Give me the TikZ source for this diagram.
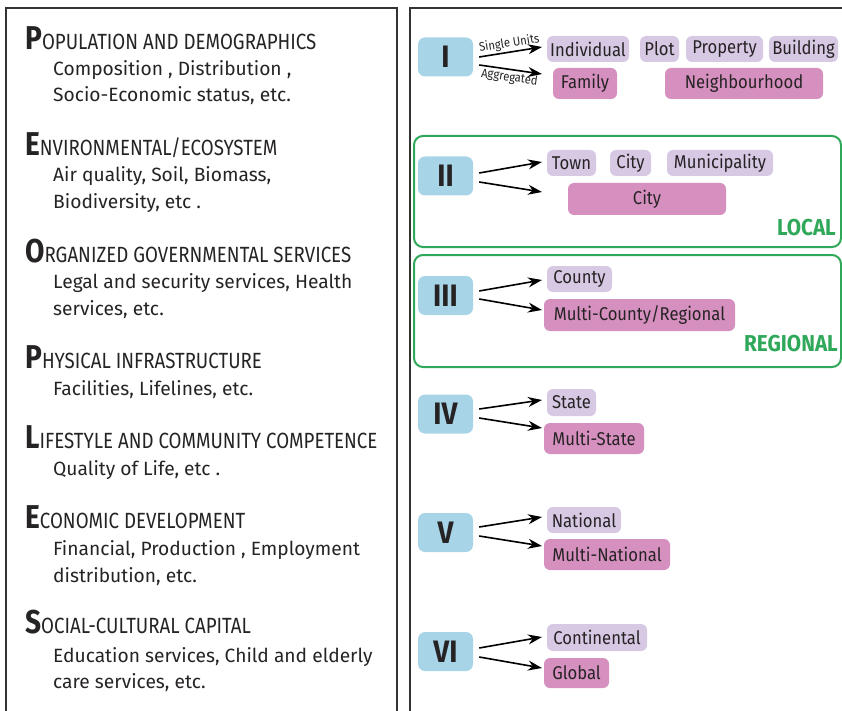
\documentclass[tikz,border=0pt]{standalone}
\usepackage{fontspec}
\setmainfont{Fira Sans}
\newfontfamily\titlefont[FakeStretch=0.85]{Fira Sans}
\newfontfamily\labelfont[FakeStretch=0.9]{Fira Sans}
\usetikzlibrary{arrows.meta}

\definecolor{txt}{HTML}{262324}
\definecolor{frame}{HTML}{333333}
\definecolor{lvlblue}{HTML}{A8D4E8}
\definecolor{unitlilac}{HTML}{D7C8E4}
\definecolor{aggpink}{HTML}{D690C0}
\definecolor{scalegreen}{HTML}{2FA85A}

\newcommand{\capinit}[1]{{\fontsize{33}{33}\selectfont\bfseries #1}}

\tikzset{
  panel/.style={draw=frame, line width=2.5pt},
  cat/.style={anchor=base west, inner sep=0pt, text=txt, font=\titlefont\fontsize{22}{22}\selectfont},
  desc/.style={anchor=base west, inner sep=0pt, text=txt, font=\fontsize{19.2}{19}\selectfont},
  lvl/.style={fill=lvlblue, rounded corners=7pt, minimum width=55pt, minimum height=39pt, inner sep=0pt, text=txt, font=\labelfont\fontsize{31}{31}\selectfont\bfseries},
  unit/.style={fill=unitlilac, rounded corners=6pt, minimum height=26pt, inner sep=0pt, text=txt, font=\labelfont\fontsize{18.5}{18.5}\selectfont},
  agg/.style={fill=aggpink, rounded corners=6pt, minimum height=31pt, inner sep=0pt, text=txt, font=\labelfont\fontsize{18.5}{18.5}\selectfont},
  scalebox/.style={draw=scalegreen, line width=2pt, rounded corners=9pt},
  scalename/.style={anchor=base east, inner sep=0pt, text=scalegreen, font=\labelfont\fontsize{23}{23}\selectfont\bfseries},
  arr/.style={-{Stealth[length=14pt,width=10pt]}, line width=1.6pt, draw=black},
  tag/.style={inner sep=1.5pt, text=txt, font=\labelfont\fontsize{12.5}{12.5}\selectfont}
}

\begin{document}
\begin{tikzpicture}[x=1pt, y=-1pt]
    \useasboundingbox (0,0) rectangle (842,711);

    % the two panels
    \draw[panel] (6,8) rectangle (397,730);
    \draw[panel] (410,8) rectangle (870,730);

    % left panel: the domains
    \node[cat] (pop) at (25,50) {\capinit{P}OPULATION AND DEMOGRAPHICS};
    \node[desc] (pop1) at (53,76) {Composition , Distribution ,};
    \node[desc] (pop2) at (53,102) {Socio-Economic status, etc.};

    \node[cat] (env) at (25,156) {\capinit{E}NVIRONMENTAL/ECOSYSTEM};
    \node[desc] (env1) at (53,182) {Air quality, Soil, Biomass,};
    \node[desc] (env2) at (53,208) {Biodiversity, etc .};

    \node[cat] (org) at (25,262) {\capinit{O}RGANIZED GOVERNMENTAL SERVICES};
    \node[desc] (org1) at (53,288) {Legal and security services, Health};
    \node[desc] (org2) at (53,315) {services, etc.};

    \node[cat] (phy) at (25,368) {\capinit{P}HYSICAL INFRASTRUCTURE};
    \node[desc] (phy1) at (53,395) {Facilities, Lifelines, etc.};

    \node[cat] (lif) at (25,448) {\capinit{L}IFESTYLE AND COMMUNITY COMPETENCE};
    \node[desc] (lif1) at (53,475) {Quality of Life, etc .};

    \node[cat] (eco) at (25,528) {\capinit{E}CONOMIC DEVELOPMENT};
    \node[desc] (eco1) at (53,555) {Financial, Production , Employment};
    \node[desc] (eco2) at (53,582) {distribution, etc.};

    \node[cat] (soc) at (25,633) {\capinit{S}OCIAL-CULTURAL CAPITAL};
    \node[desc] (soc1) at (53,662) {Education services, Child and elderly};
    \node[desc] (soc2) at (53,688) {care services, etc.};

    % right panel: green frames behind the levels
    \draw[scalebox] (414,136) rectangle (841,247);
    \draw[scalebox] (414,255) rectangle (841,367);
    \node[scalename] (local) at (836,236) {LOCAL};
    \node[scalename] (regional) at (838,351) {REGIONAL};

    % level I
    \node[lvl] (rI) at (445.5,57) {I};
    \node[unit, minimum width=82pt] (indiv) at (588,49) {Individual};
    \node[unit, minimum width=39pt] (plot) at (659.5,49) {Plot};
    \node[unit, minimum width=77pt] (prop) at (724.5,49) {Property};
    \node[unit, minimum width=69pt] (build) at (803.5,49) {Building};
    \node[agg, minimum width=64pt] (family) at (585,83.5) {Family};
    \node[agg, minimum width=158pt] (neigh) at (744,83.5) {Neighbourhood};
    \coordinate (tI1) at (542,47);
    \coordinate (tI2) at (542,74);
    \draw[arr] ([shift={(6pt,0pt)}]rI.east) -- node[tag, sloped, above] {Single Units} (tI1);
    \draw[arr] ([shift={(6pt,-8pt)}]rI.east) -- node[tag, sloped, below] {Aggregated} (tI2);

    % level II
    \node[lvl] (rII) at (445.5,176) {II};
    \node[unit, minimum width=49pt] (town) at (571.5,163) {Town};
    \node[unit, minimum width=41pt] (city) at (630.5,163) {City};
    \node[unit, minimum width=106pt] (muni) at (720,163) {Municipality};
    \node[agg, minimum width=158pt, minimum height=32pt] (bigcity) at (647,199) {City};
    \coordinate (tII1) at (542,162);
    \coordinate (tII2) at (542,192);
    \draw[arr] ([shift={(6pt,3pt)}]rII.east) -- (tII1);
    \draw[arr] ([shift={(6pt,-6pt)}]rII.east) -- (tII2);

    % level III
    \node[lvl] (rIII) at (445.5,295.5) {III};
    \node[unit, minimum width=65pt] (county) at (579.5,279) {County};
    \node[agg, minimum width=191pt, minimum height=32pt] (multicounty) at (639.5,315) {Multi-County/Regional};
    \coordinate (tIII1) at (542,280);
    \coordinate (tIII2) at (542,310);
    \draw[arr] ([shift={(6pt,4.5pt)}]rIII.east) -- (tIII1);
    \draw[arr] ([shift={(6pt,-3.5pt)}]rIII.east) -- (tIII2);

    % level IV
    \node[lvl] (rIV) at (445.5,414) {IV};
    \node[unit, minimum width=49pt, minimum height=27pt] (state) at (571.5,402.5) {State};
    \node[agg, minimum width=100pt] (multistate) at (594,438.5) {Multi-State};
    \coordinate (tIV1) at (542,400);
    \coordinate (tIV2) at (542,428);
    \draw[arr] ([shift={(6pt,5pt)}]rIV.east) -- (tIV1);
    \draw[arr] ([shift={(6pt,-4pt)}]rIV.east) -- (tIV2);

    % level V
    \node[lvl] (rV) at (445.5,532.5) {V};
    \node[unit, minimum width=74pt] (national) at (584,520) {National};
    \node[agg, minimum width=126pt] (multinational) at (607,554.5) {Multi-National};
    \coordinate (tV1) at (542,517);
    \coordinate (tV2) at (542,546);
    \draw[arr] ([shift={(6pt,5.5pt)}]rV.east) -- (tV1);
    \draw[arr] ([shift={(6pt,-3.5pt)}]rV.east) -- (tV2);

    % level VI
    \node[lvl] (rVI) at (445.5,651.5) {VI};
    \node[unit, minimum width=100pt, minimum height=27pt] (conti) at (597,637.5) {Continental};
    \node[agg, minimum width=65pt, minimum height=30pt] (global) at (576.5,673) {Global};
    \coordinate (tVI1) at (542,637);
    \coordinate (tVI2) at (542,668);
    \draw[arr] ([shift={(6pt,3.5pt)}]rVI.east) -- (tVI1);
    \draw[arr] ([shift={(6pt,-5.5pt)}]rVI.east) -- (tVI2);
\end{tikzpicture}
\end{document}
